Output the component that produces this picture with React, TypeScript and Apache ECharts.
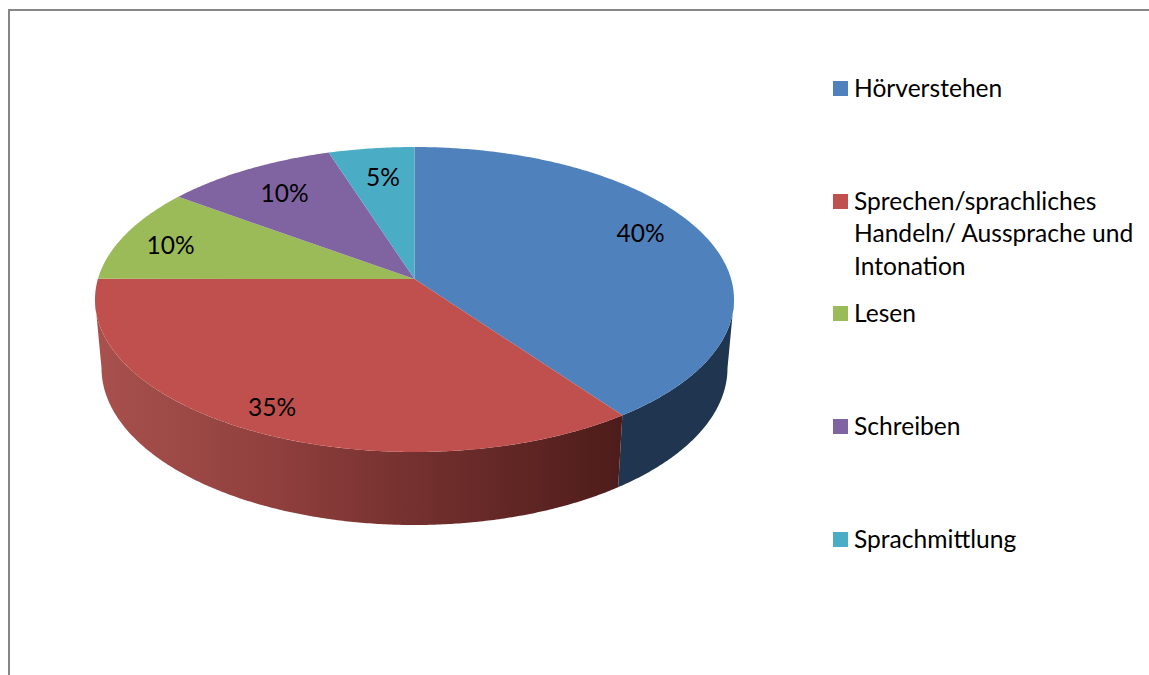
import React, { useEffect, useRef } from "react";
import * as echarts from "echarts";

const categories = ["Hörverstehen", "Sprechen/sprachliches\nHandeln/ Aussprache und\nIntonation", "Lesen", "Schreiben", "Sprachmittlung"];
const values = [40, 35, 10, 10, 5];
const colors = ["#4f81bd", "#c0504d", "#9bbb59", "#8064a2", "#4bacc6"];

const FONT = "Lato, Carlito, sans-serif";
const TOP = { cx: 414.5, cy: 299.5, rx: 319.5, ry: 152.5 };
const BASE = { cx: 414.5, cy: 368, rx: 313, ry: 157 };
const APEX = { x: 414.5, y: 279 };
const PERSPECTIVE_WARP = 7.8;
const labelCentres = [[640.5, 232], [272, 406], [170.5, 244], [284.5, 192], [383, 176]];
const legendRows = [88, 201, 313, 426, 539];
const total = values.reduce((a, b) => a + b, 0);

const rad = (d: number) => (d * Math.PI) / 180;
// Shown angle of a true pie angle, after the tilt of the 3D view.
const warp = (d: number) => d - PERSPECTIVE_WARP * Math.sin(rad(d));
const at = (e: typeof TOP, d: number): [number, number] => [e.cx + e.rx * Math.sin(rad(d)), e.cy - e.ry * Math.cos(rad(d))];

function arc(e: typeof TOP, a: number, b: number) {
  const n = Math.max(2, Math.ceil(Math.abs(b - a) * 2));
  const pts: [number, number][] = [];
  for (let i = 0; i <= n; i++) pts.push(at(e, a + ((b - a) * i) / n));
  return pts;
}
const toPath = (pts: [number, number][]) =>
  pts.map((p, i) => `${i ? "L" : "M"}${p[0].toFixed(2)} ${p[1].toFixed(2)}`).join("") + "Z";

const wallFills: Record<number, any> = {
  0: "#1f3550",
  1: new echarts.graphic.LinearGradient(0, 0, 1, 0, [
    { offset: 0, color: "#a8514e" },
    { offset: 0.35, color: "#8f3f3d" },
    { offset: 0.65, color: "#6f2e2c" },
    { offset: 1, color: "#4d1c1a" },
  ]),
};

function renderItem(params: any, api: any) {
  const i = params.dataIndex;
  const before = values.slice(0, i).reduce((a, b) => a + b, 0);
  const value = api.value(0);
  const a = warp((before / total) * 360);
  const b = warp(((before + value) / total) * 360);
  const children: any[] = [];
  const wa = Math.max(a, 90);
  const wb = Math.min(b, 270);
  if (wb > wa) {
    const d = toPath([...arc(TOP, wa, wb), ...arc(BASE, wb, wa)]);
    children.push({ type: "path", shape: { pathData: d }, style: { fill: wallFills[i] ?? colors[i] }, z2: 1 });
  }
  const top = toPath([[APEX.x, APEX.y], ...arc(TOP, a, b)]);
  children.push({ type: "path", shape: { pathData: top }, style: { fill: colors[i] }, z2: 2 });
  children.push({
    type: "text",
    z2: 3,
    style: {
      text: `${Math.round((value / total) * 100)}%`,
      x: labelCentres[i][0],
      y: labelCentres[i][1],
      align: "center",
      verticalAlign: "middle",
      font: `24.5px ${FONT}`,
      fill: "#000000",
    },
  });
  return { type: "group", children };
}

export default function App() {
  const ref = useRef<HTMLDivElement>(null);
  useEffect(() => {
    const chart = echarts.init(ref.current!, null, { renderer: "svg" });
    const legend: any[] = [];
    categories.forEach((name, i) => {
      legend.push({ type: "rect", shape: { x: 833, y: legendRows[i] - 7, width: 15, height: 15 }, style: { fill: colors[i] } });
      name.split("\n").forEach((line, j) => {
        legend.push({
          type: "text",
          style: { text: line, x: 854, y: legendRows[i] - 1 + j * 32.5, verticalAlign: "middle", align: "left", font: `24.6px ${FONT}`, fill: "#000000" },
        });
      });
    });
    chart.setOption({
      animation: false,
      backgroundColor: "#ffffff",
      series: [
        {
          type: "custom",
          coordinateSystem: "none",
          silent: true,
          renderItem,
          data: values.map((v, i) => ({ name: categories[i], value: [v] })),
        },
      ],
      graphic: [
        { type: "line", shape: { x1: 9, y1: 9, x2: 9, y2: 675 }, style: { stroke: "#868686", lineWidth: 2 } },
        { type: "line", shape: { x1: 8, y1: 10, x2: 1149, y2: 10 }, style: { stroke: "#868686", lineWidth: 2 } },
        ...legend,
      ],
    });
    return () => chart.dispose();
  }, []);
  return <div ref={ref} style={{ position: "absolute", left: 0, top: 0, width: 1149, height: 675 }} />;
}
